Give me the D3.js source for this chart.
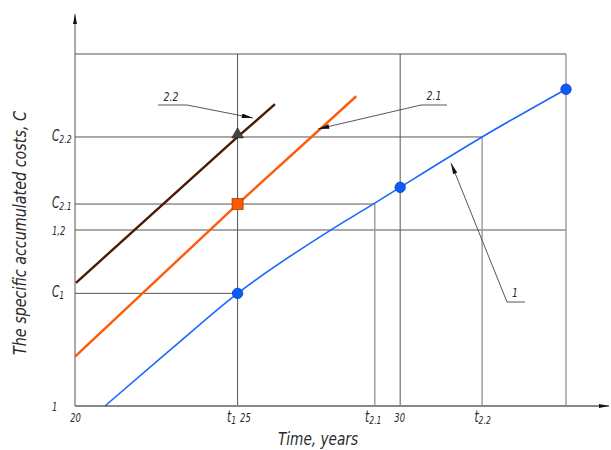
<!DOCTYPE html>
<html>
<head>
<meta charset="utf-8">
<script src="https://cdn.jsdelivr.net/npm/d3@7"></script>
<style>
  body { margin: 0; background: #fff; }
  text { font-family: "DejaVu Sans", sans-serif; font-stretch: condensed; font-style: italic; fill: #2a2a2a; }
</style>
</head>
<body>
<div id="chart"></div>
<script>
// data
const curve1T = [20.92, 23, 25, 27.8, 29.22, 30, 32.52, 35.1];
const curve1C = [1.0, 1.066, 1.128, 1.1985, 1.2305, 1.2485, 1.3057, 1.36];
const line21T = [20, 25, 28.65];
const line21C = [1.056, 1.2295, 1.352];
const line22T = [20.03, 25, 26.15];
const line22C = [1.14, 1.3057, 1.343];

// reference levels
const cLevels = [1, 1.128, 1.2, 1.2295, 1.3057];
const cLabels = ["1", ["C", "1"], "1,2", ["C", "2.1"], ["C", "2.2"]];
const tTicks = [20, 25, 25, 29.22, 30, 32.52];
const tLabels = ["20", ["t", "1"], "25", ["t", "2.1"], "30", ["t", "2.2"]];
const tEnd = 35.1, cTop = 1.4;

const width = 611, height = 450;
const x = d3.scaleLinear().domain([20, tEnd]).range([75, 566]);
const y = d3.scaleLinear().domain([1, cTop]).range([406, 54]);

const svg = d3.select("#chart").append("svg").attr("width", width).attr("height", height);

const defs = svg.append("defs");
defs.append("marker").attr("id", "arrow").attr("viewBox", "0 0 10 4")
  .attr("refX", 10).attr("refY", 2).attr("markerWidth", 14).attr("markerHeight", 4.5)
  .attr("markerUnits", "userSpaceOnUse").attr("orient", "auto")
  .append("path").attr("d", "M0,0L10,2L0,4Z").attr("fill", "#111");
defs.append("marker").attr("id", "axarrow").attr("viewBox", "0 0 10 4")
  .attr("refX", 10).attr("refY", 2).attr("markerWidth", 10).attr("markerHeight", 4)
  .attr("markerUnits", "userSpaceOnUse").attr("orient", "auto")
  .append("path").attr("d", "M0,0L10,2L0,4Z").attr("fill", "#111");

// grid (drawing-style construction lines)
const grid = svg.append("g");
const hLines = [
  { c: cTop, t: tEnd }, { c: 1.3057, t: 32.52 }, { c: 1.2295, t: 29.22 },
  { c: 1.2, t: tEnd }, { c: 1.128, t: 25 }
];
grid.selectAll("line.h").data(hLines).enter().append("line")
  .attr("x1", x(20)).attr("x2", d => x(d.t))
  .attr("y1", d => y(d.c)).attr("y2", d => y(d.c))
  .attr("stroke", "#555").attr("stroke-width", 1);
const vLines = [
  { t: 25, c: cTop, col: "#555", w: 1 }, { t: 30, c: cTop, col: "#555", w: 1 },
  { t: 29.22, c: 1.2295, col: "#999", w: 1.4 }, { t: 32.52, c: 1.3057, col: "#999", w: 1.4 },
  { t: tEnd, c: cTop, col: "#999", w: 1.4 }
];
grid.selectAll("line.v").data(vLines).enter().append("line")
  .attr("x1", d => x(d.t)).attr("x2", d => x(d.t))
  .attr("y1", y(1)).attr("y2", d => y(d.c))
  .attr("stroke", d => d.col).attr("stroke-width", d => d.w);

// axes
svg.append("line").attr("x1", x(20)).attr("x2", 609).attr("y1", y(1)).attr("y2", y(1))
  .attr("stroke", "#888").attr("stroke-width", 2).attr("marker-end", "url(#axarrow)");
svg.append("line").attr("x1", x(20)).attr("x2", x(20)).attr("y1", y(1)).attr("y2", 14)
  .attr("stroke", "#555").attr("stroke-width", 1).attr("marker-end", "url(#axarrow)");

function subLabel(sel, lab, big, small) {
  if (Array.isArray(lab)) {
    sel.append("tspan").text(lab[0]).attr("font-size", big);
    sel.append("tspan").text(lab[1]).attr("font-size", small).attr("dy", 2);
  } else {
    sel.text(lab).attr("font-size", small + 1);
  }
}

// narrow drafting-style lettering: squeeze the text horizontally around its anchor
const squeeze = 0.78;

const yAxis = svg.append("g").attr("transform", `translate(${x(20)},0)`)
  .call(d3.axisLeft(y).tickValues(cLevels).tickSize(0).tickFormat(""));
yAxis.select(".domain").remove();
yAxis.selectAll(".tick text").each(function (d, i) {
  const t = d3.select(this).attr("x", 0).attr("dy", "0.35em").attr("text-anchor", "start")
    .attr("font-family", null).attr("transform", `translate(-23,0) scale(${squeeze},1)`);
  subLabel(t, cLabels[i], 15, 11);
});

const xAxis = svg.append("g").attr("transform", `translate(0,${y(1)})`)
  .call(d3.axisBottom(x).tickValues(tTicks).tickSize(0).tickFormat(""));
xAxis.select(".domain").remove();
const xAnchor = ["middle", "end", "start", "middle", "middle", "middle"];
const xShift = [0, -2, 2, -2, -1, 0];
xAxis.selectAll(".tick text").each(function (d, i) {
  const t = d3.select(this).attr("y", 0).attr("dy", 0).attr("x", 0)
    .attr("text-anchor", xAnchor[i]).attr("font-family", null)
    .attr("transform", `translate(${xShift[i]},16) scale(${squeeze},1)`);
  subLabel(t, tLabels[i], 15, 11);
});

// axis titles
svg.append("text").attr("x", 318).attr("y", 445).attr("text-anchor", "middle")
  .attr("font-size", 18).attr("textLength", 80).attr("lengthAdjust", "spacingAndGlyphs")
  .text("Time, years");
svg.append("text").attr("transform", `translate(26,${233}) rotate(-90)`)
  .attr("text-anchor", "middle").attr("font-size", 18)
  .attr("textLength", 244).attr("lengthAdjust", "spacingAndGlyphs")
  .text("The specific accumulated costs, C");

// series
const line = d3.line().x(d => x(d[0])).y(d => y(d[1]));
svg.append("path").datum(d3.zip(line22T, line22C))
  .attr("d", line).attr("fill", "none").attr("stroke", "#4a1a05").attr("stroke-width", 2.4);
svg.append("path").datum(d3.zip(line21T, line21C))
  .attr("d", line).attr("fill", "none").attr("stroke", "#ff5a0a").attr("stroke-width", 2.4);
svg.append("path").datum(d3.zip(curve1T, curve1C))
  .attr("d", line.curve(d3.curveMonotoneX)).attr("fill", "none")
  .attr("stroke", "#1a66ff").attr("stroke-width", 1.6);

// markers
svg.selectAll("circle.p1").data([[25, 1.128], [30, 1.2485], [tEnd, 1.36]]).enter()
  .append("circle").attr("cx", d => x(d[0])).attr("cy", d => y(d[1])).attr("r", 5.2)
  .attr("fill", "#0a5cff").attr("stroke", "#0a3aa8").attr("stroke-width", 0.8);
svg.append("rect").attr("x", x(25) - 5.5).attr("y", y(1.2295) - 5.5)
  .attr("width", 11).attr("height", 11)
  .attr("fill", "#ff5a00").attr("stroke", "#a83a00").attr("stroke-width", 0.8);
svg.append("path").attr("d", d3.symbol().type(d3.symbolTriangle).size(60)())
  .attr("transform", `translate(${x(25)},${y(1.3057) - 2.5})`)
  .attr("fill", "#444").attr("stroke", "#222").attr("stroke-width", 0.6);

// leaders
const leaders = [
  { label: "2.2", tx: 171, ty: 101, pts: [[158, 105], [187, 105], [253, 118]] },
  { label: "2.1", tx: 434, ty: 100, pts: [[447, 105], [421, 105], [318, 129]] },
  { label: "1", tx: 515, ty: 297, pts: [[525, 302], [507, 302], [451, 163]] }
];
leaders.forEach(l => {
  svg.append("path").attr("d", d3.line()(l.pts)).attr("fill", "none")
    .attr("stroke", "#444").attr("stroke-width", 0.9).attr("marker-end", "url(#arrow)");
  svg.append("text").attr("transform", `translate(${l.tx},${l.ty}) scale(0.8,1)`)
    .attr("text-anchor", "middle").attr("font-size", 13).text(l.label);
});
</script>
</body>
</html>
